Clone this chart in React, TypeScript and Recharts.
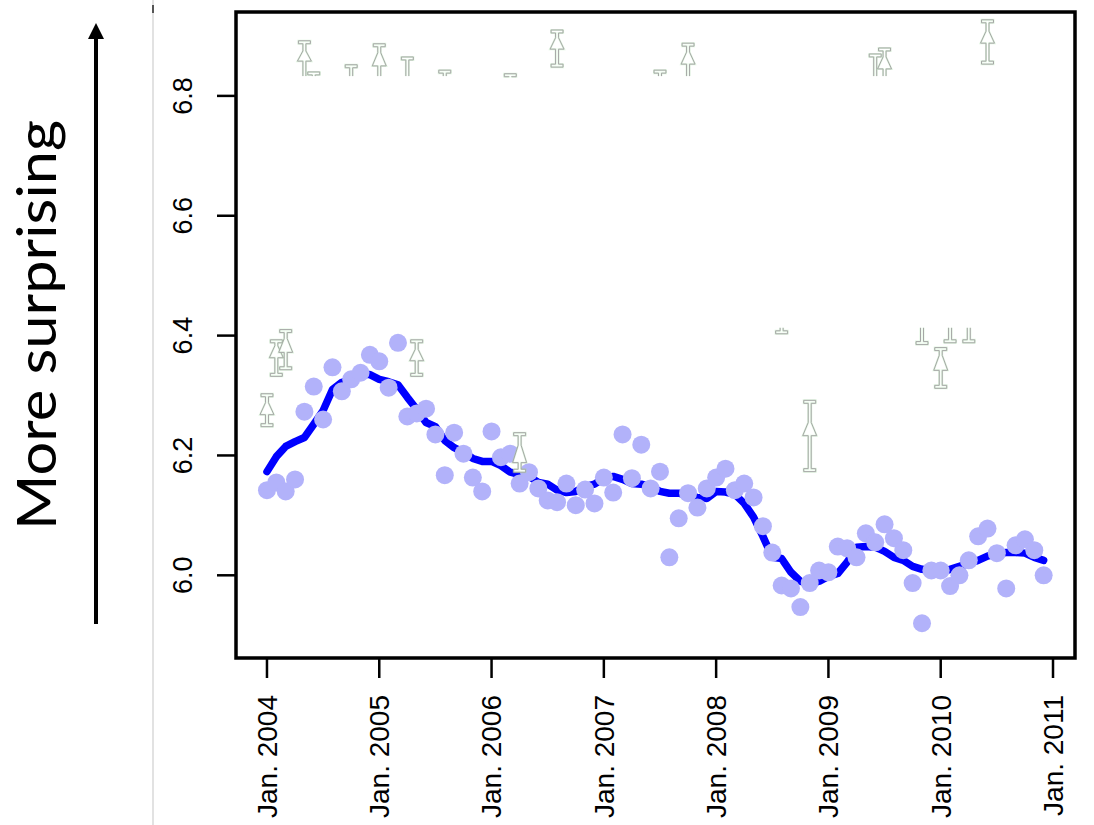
import React from 'react';
import { ComposedChart, XAxis, YAxis, Scatter, Line, ReferenceArea } from 'recharts';

// months counted from Jan. 2004 (0) to Dec. 2010 (83)
const X_TICKS = [0, 12, 24, 36, 48, 60, 72, 84];
const X_TICK_LABELS = ['Jan. 2004', 'Jan. 2005', 'Jan. 2006', 'Jan. 2007', 'Jan. 2008', 'Jan. 2009', 'Jan. 2010', 'Jan. 2011'];
const Y_TICKS = [6.0, 6.2, 6.4, 6.6, 6.8];

// monthly observations (light dots)
const OBSERVED = [
  6.142, 6.155, 6.140, 6.160, 6.273, 6.315, 6.260, 6.347, 6.307, 6.327,
  6.338, 6.368, 6.357, 6.313, 6.388, 6.265, 6.270, 6.278, 6.235, 6.167,
  6.238, 6.203, 6.163, 6.140, 6.240, 6.197, 6.203, 6.153, 6.172, 6.145,
  6.125, 6.122, 6.153, 6.117, 6.143, 6.120, 6.163, 6.138, 6.235, 6.162,
  6.218, 6.145, 6.173, 6.030, 6.095, 6.137, 6.113, 6.145, 6.163, 6.178,
  6.142, 6.153, 6.130, 6.082, 6.038, 5.983, 5.978, 5.947, 5.987, 6.008,
  6.005, 6.048, 6.045, 6.030, 6.070, 6.055, 6.085, 6.062, 6.042, 5.987,
  5.920, 6.008, 6.008, 5.982, 6.000, 6.025, 6.065, 6.078, 6.037, 5.978,
  6.050, 6.060, 6.042, 6.000,
];

// smoothed trend (thick blue line)
const SMOOTHED = [
  6.173, 6.198, 6.215, 6.223, 6.230, 6.252, 6.275, 6.310, 6.322, 6.326,
  6.335, 6.335, 6.327, 6.323, 6.318, 6.297, 6.277, 6.255, 6.248, 6.225,
  6.213, 6.205, 6.195, 6.190, 6.190, 6.183, 6.172, 6.168, 6.165, 6.155,
  6.152, 6.142, 6.138, 6.140, 6.148, 6.152, 6.162, 6.165, 6.160, 6.153,
  6.152, 6.148, 6.140, 6.137, 6.137, 6.133, 6.130, 6.128, 6.140, 6.139,
  6.135, 6.120, 6.097, 6.065, 6.030, 6.028, 6.005, 5.990, 5.985, 5.990,
  5.998, 6.003, 6.022, 6.047, 6.048, 6.047, 6.040, 6.030, 6.025, 6.015,
  6.010, 6.008, 6.005, 6.010, 6.015, 6.020, 6.025, 6.032, 6.036, 6.038,
  6.038, 6.037, 6.030, 6.025,
];

// faint notched glyphs: [month, high, low, flare start, flare end, top cap, bottom cap]
const GLYPHS: [number, number, number, number | null, number | null, boolean, boolean][] = [
  [4, 6.892, 6.833, 6.875, 6.858, true, false],
  [5, 6.840, 6.833, null, null, true, false],
  [9, 6.852, 6.833, null, null, true, false],
  [12, 6.887, 6.833, 6.872, 6.850, true, false],
  [15, 6.865, 6.833, null, null, true, false],
  [19, 6.843, 6.833, null, null, true, false],
  [26, 6.837, 6.833, null, null, true, false],
  [31, 6.910, 6.848, 6.897, 6.878, true, true],
  [42, 6.843, 6.833, null, null, true, false],
  [45, 6.888, 6.833, 6.873, 6.853, true, false],
  [65, 6.870, 6.833, null, null, true, false],
  [66, 6.880, 6.833, 6.865, 6.845, true, false],
  [77, 6.927, 6.853, 6.908, 6.888, true, true],
  [0, 6.303, 6.248, 6.288, 6.268, true, true],
  [1, 6.393, 6.332, 6.383, 6.363, true, true],
  [2, 6.410, 6.343, 6.395, 6.372, true, true],
  [16, 6.393, 6.332, 6.377, 6.358, true, true],
  [27, 6.238, 6.172, 6.217, 6.188, true, true],
  [55, 6.413, 6.403, null, null, false, true],
  [58, 6.292, 6.173, 6.255, 6.233, true, true],
  [70, 6.413, 6.385, null, null, false, true],
  [72, 6.380, 6.312, 6.367, 6.342, true, true],
  [73, 6.413, 6.388, null, null, false, true],
  [75, 6.413, 6.388, null, null, false, true],
];

const W = 1094;
const H = 825;
const MARGIN = { top: 12, right: 19, left: 0, bottom: 0 };
const Y_AXIS_W = 236;
const X_AXIS_H = 167;
const X_DOMAIN: [number, number] = [-3.31, 86.35];
const Y_DOMAIN: [number, number] = [5.862, 6.94];
const PLOT_H = H - MARGIN.top - X_AXIS_H;
const PX_PER_UNIT = PLOT_H / (Y_DOMAIN[1] - Y_DOMAIN[0]);

const rows = OBSERVED.map((v, i) => ({ m: i, obs: v, smooth: SMOOTHED[i] }));
const glyphRows = GLYPHS.map(([m, hi, lo, apex, base, topCap, botCap]) => ({ m, hi, lo, apex, base, topCap, botCap }));

const Dot = (p: any) => <circle cx={p.cx} cy={p.cy} r={9} fill="#b2b2fa" />;

function Glyph(p: any) {
  const { cx, cy, payload } = p;
  const toY = (v: number) => cy + (payload.hi - v) * PX_PER_UNIT;
  const yT = cy;
  const yB = toY(payload.lo);
  const right: [number, number][] = [];
  if (payload.topCap) right.push([6, yT], [6, yT + 3], [1.5, yT + 3]);
  else right.push([1.5, yT]);
  if (payload.apex != null) {
    right.push([1.5, toY(payload.apex)], [7, toY(payload.base)], [1.5, toY(payload.base)]);
  }
  if (payload.botCap) right.push([1.5, yB - 3], [6, yB - 3], [6, yB]);
  else right.push([1.5, yB]);
  const left = right.slice().reverse().map(([dx, y]) => [-dx, y] as [number, number]);
  const pts = payload.botCap ? [...right, ...left] : [...left, ...right];
  const closed = payload.topCap && payload.botCap;
  const d = pts.map((q, i) => `${i ? 'L' : 'M'}${cx + q[0]},${q[1]}`).join(' ') + (closed ? ' Z' : '');
  return (
    <g>
      <path d={d} fill="#fff" stroke="#a8e6a8" strokeWidth={2} strokeOpacity={0.35} />
      <path d={d} fill="none" stroke="#a6a6a6" strokeWidth={1} />
    </g>
  );
}

const XTick = (p: any) => {
  const idx = X_TICKS.indexOf(p.payload.value);
  return (
    <text x={p.x} y={p.y} transform={`rotate(-90 ${p.x} ${p.y})`} textAnchor="end" dy="0.35em"
      fontFamily="Liberation Sans, Arial, sans-serif" fontSize={28} fill="#000">
      {X_TICK_LABELS[idx]}
    </text>
  );
};

const YTick = (p: any) => (
  <text x={p.x} y={p.y} transform={`rotate(-90 ${p.x} ${p.y})`} textAnchor="middle" dy="0.35em"
    fontFamily="Liberation Sans, Arial, sans-serif" fontSize={27} fill="#000">
    {Number(p.payload.value).toFixed(1)}
  </text>
);

export default function App() {
  return (
    <div style={{ position: 'absolute', left: 0, top: 0, width: W, height: H, background: '#fff' }}>
      <ComposedChart width={W} height={H} data={rows} margin={MARGIN}>
        <XAxis type="number" dataKey="m" domain={X_DOMAIN} ticks={X_TICKS} allowDataOverflow
          height={X_AXIS_H} tickSize={20} tickMargin={17} axisLine={false}
          tickLine={{ stroke: '#000', strokeWidth: 2.5 }} tick={<XTick />} interval={0} />
        <YAxis type="number" domain={Y_DOMAIN} ticks={Y_TICKS} allowDataOverflow
          width={Y_AXIS_W} tickSize={19} tickMargin={34} axisLine={false}
          tickLine={{ stroke: '#000', strokeWidth: 2.5 }} tick={<YTick />} interval={0} />
        <Scatter dataKey="obs" shape={Dot} isAnimationActive={false} />
        <Scatter data={glyphRows} dataKey="hi" shape={Glyph} isAnimationActive={false} />
        <Line dataKey="smooth" type="linear" stroke="#0000ff" strokeWidth={7.5} strokeLinejoin="round"
          strokeLinecap="round" dot={false} activeDot={false} isAnimationActive={false} />
        <ReferenceArea x1={X_DOMAIN[0]} x2={X_DOMAIN[1]} y1={Y_DOMAIN[0]} y2={Y_DOMAIN[1]}
          fill="none" fillOpacity={0} stroke="#000" strokeWidth={3.5} />
      </ComposedChart>
      <svg width={W} height={H} style={{ position: 'absolute', left: 0, top: 0, pointerEvents: 'none' }}>
        <line x1={153} y1={0} x2={153} y2={H} stroke="#e2e2e2" strokeWidth={2} />
        <line x1={153} y1={5} x2={153} y2={13} stroke="#555" strokeWidth={2} />
        <line x1={96} y1={624} x2={96} y2={36} stroke="#000" strokeWidth={4} />
        <polygon points="96,23 88,39 104,39" fill="#000" />
        <text x={56} y={325} transform="rotate(-90 56 325)" textAnchor="middle" fontFamily="Lato, sans-serif"
          fontWeight={400} fontSize={54} textLength={410} lengthAdjust="spacingAndGlyphs" fill="#000">
          More surprising
        </text>
      </svg>
    </div>
  );
}
